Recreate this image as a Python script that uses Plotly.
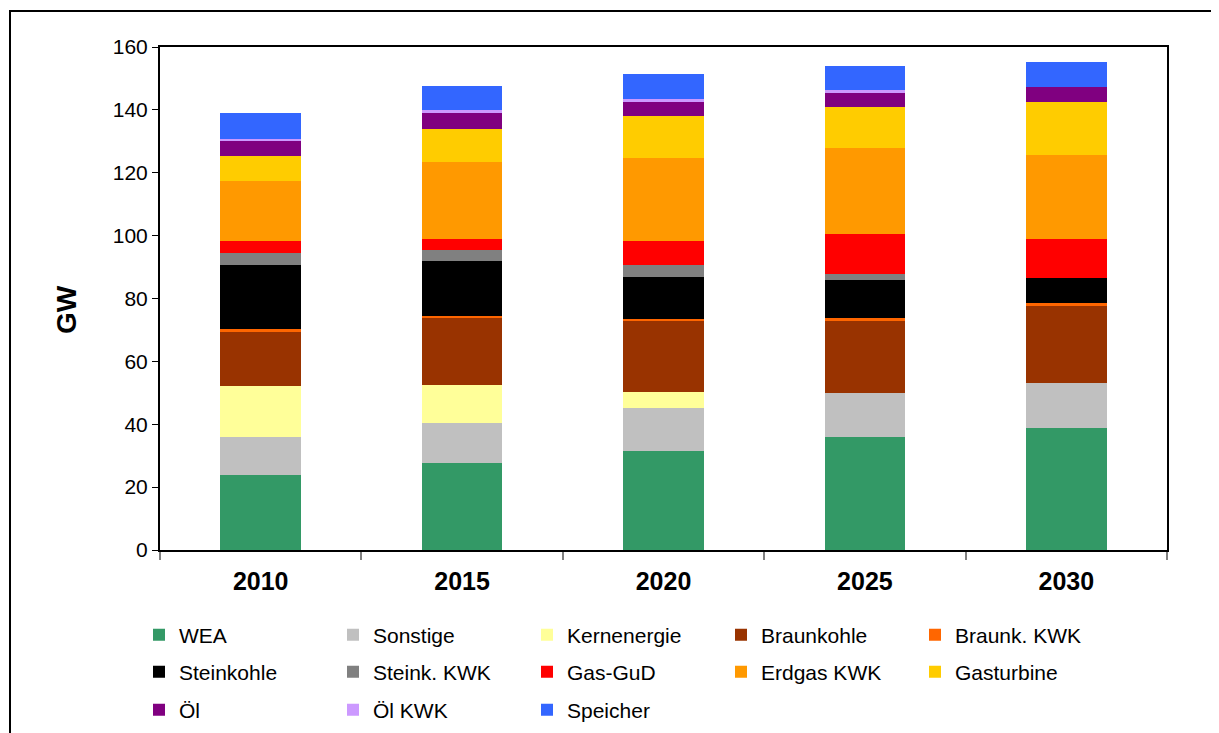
import plotly.graph_objects as go

years = ["2010", "2015", "2020", "2025", "2030"]

series_names = ["WEA", "Sonstige", "Kernenergie", "Braunkohle", "Braunk. KWK",
                "Steinkohle", "Steink. KWK", "Gas-GuD", "Erdgas KWK", "Gasturbine",
                "Öl", "Öl KWK", "Speicher"]

wea = [23.9, 27.7, 31.5, 35.9, 38.8]
sonstige = [12.0, 12.7, 13.7, 14.0, 14.3]
kernenergie = [16.2, 12.1, 5.1, 0.0, 0.0]
braunkohle = [17.5, 21.3, 22.5, 23.2, 24.8]
braunk_kwk = [0.6, 0.6, 0.7, 0.6, 0.6]
steinkohle = [20.4, 17.5, 13.3, 12.1, 7.9]
steink_kwk = [3.9, 3.5, 3.8, 1.9, 0.0]
gas_gud = [3.8, 3.5, 7.7, 12.7, 12.4]
erdgas_kwk = [19.1, 24.5, 26.4, 27.4, 26.7]
gasturbine = [7.9, 10.5, 13.3, 13.0, 16.9]
oel = [5.1, 5.4, 4.8, 4.5, 4.8]
oel_kwk = [0.3, 0.6, 0.6, 0.9, 0.0]
speicher = [8.3, 7.7, 8.0, 7.6, 7.9]

values = [wea, sonstige, kernenergie, braunkohle, braunk_kwk, steinkohle, steink_kwk,
          gas_gud, erdgas_kwk, gasturbine, oel, oel_kwk, speicher]

colors = ["#339966", "#C0C0C0", "#FFFF99", "#993300", "#FF6600",
          "#000000", "#808080", "#FF0000", "#FF9900", "#FFCC00",
          "#800080", "#CC99FF", "#3366FF"]

legend_ids = ["legend"] * 5 + ["legend2"] * 5 + ["legend3"] * 3

# page body has an 8px default margin; the figure is sized to fill the rest
OFF = 8
W, H = 1219 - OFF, 733 - OFF
L, T = 160 - OFF, 47 - OFF
R, B = W - (1167 - OFF), H - (550 - OFF)
pw, ph = W - L - R, H - T - B


def px_x(p):
    # p: page pixel x
    return (p - OFF - L) / pw


def px_y(p):
    # p: page pixel y
    return (H - B - (p - OFF)) / ph


FONT = "Liberation Sans, Arial, sans-serif"

fig = go.Figure()
for name, vals, col, lg in zip(series_names, values, colors, legend_ids):
    fig.add_trace(go.Bar(
        x=years, y=vals, name=name, legend=lg,
        marker=dict(color=col, line=dict(width=0)),
    ))

legend_common = dict(
    orientation="h",
    font=dict(family=FONT, size=21, color="#000000"),
    entrywidth=149,
    entrywidthmode="pixels",
    itemwidth=30,
    bgcolor="rgba(0,0,0,0)",
    xanchor="left",
    yanchor="middle",
    traceorder="normal",
    itemclick=False,
    itemdoubleclick=False,
)

legend_x = px_x(139)

fig.update_layout(
    width=W, height=H,
    margin=dict(l=L, r=R, t=T, b=B, autoexpand=False),
    paper_bgcolor="white",
    plot_bgcolor="white",
    barmode="stack",
    bargap=0.6,
    font=dict(family=FONT, color="#000000"),
    legend=dict(legend_common, x=legend_x, y=px_y(635)),
    legend2=dict(legend_common, x=legend_x, y=px_y(672)),
    legend3=dict(legend_common, x=legend_x, y=px_y(710)),
    xaxis=dict(
        type="category",
        showline=True, linecolor="#000000", linewidth=2, mirror=True,
        ticks="outside", tickson="boundaries", ticklen=8, tickcolor="#808080", tickwidth=2,
        tickfont=dict(size=25, family=FONT, color="#000000", weight="bold"),
        ticklabelstandoff=8,
        showgrid=False, zeroline=False,
    ),
    yaxis=dict(
        range=[0, 160], dtick=20, tick0=0,
        showline=True, linecolor="#000000", linewidth=2, mirror=True,
        ticks="outside", ticklen=6, tickcolor="#000000", tickwidth=1,
        tickfont=dict(size=21, family=FONT, color="#000000"),
        showgrid=False, zeroline=False,
    ),
    annotations=[dict(
        text="<b>GW</b>", textangle=-90, showarrow=False,
        xref="paper", yref="paper", x=px_x(66), y=px_y(310),
        xanchor="center", yanchor="middle",
        font=dict(size=28, family=FONT, color="#000000"),
    )],
    shapes=[dict(
        type="rect", xref="paper", yref="paper",
        x0=px_x(10), x1=px_x(1250), y0=px_y(770), y1=px_y(11),
        line=dict(color="#000000", width=2), fillcolor="rgba(0,0,0,0)", layer="below",
    )],
)

fig.write_html("out.html")
